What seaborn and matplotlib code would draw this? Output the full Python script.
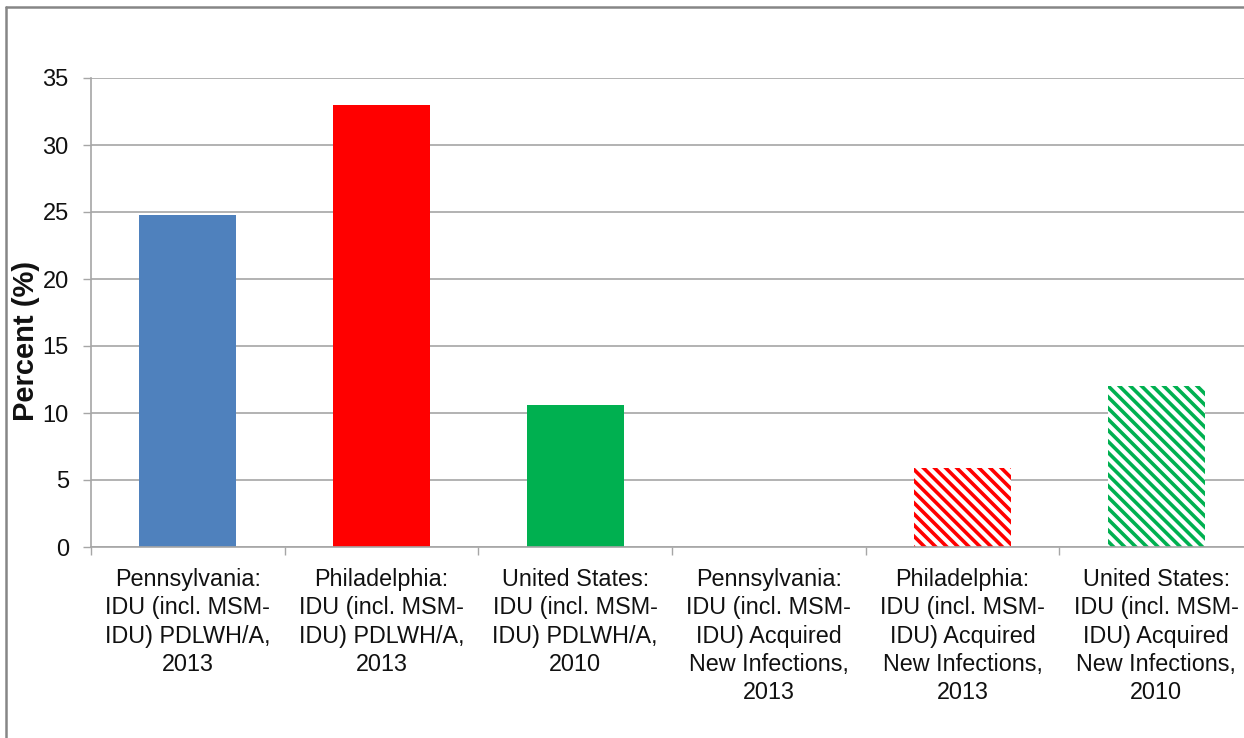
import numpy as np
import pandas as pd
import matplotlib
matplotlib.use("Agg")
import matplotlib.pyplot as plt
from matplotlib.lines import Line2D
import seaborn as sns

# Share of HIV cases attributed to injection drug use
categories = [
    "Pennsylvania:\nIDU (incl. MSM-\nIDU) PDLWH/A,\n2013",
    "Philadelphia:\nIDU (incl. MSM-\nIDU) PDLWH/A,\n2013",
    "United States:\nIDU (incl. MSM-\nIDU) PDLWH/A,\n2010",
    "Pennsylvania:\nIDU (incl. MSM-\nIDU) Acquired\nNew Infections,\n2013",
    "Philadelphia:\nIDU (incl. MSM-\nIDU) Acquired\nNew Infections,\n2013",
    "United States:\nIDU (incl. MSM-\nIDU) Acquired\nNew Infections,\n2010",
]
percent = [24.8, 33.0, 10.6, 0.0, 5.9, 12.0]
bar_colors = ["#4F81BD", "#FF0000", "#00B050", "#4F81BD", "#FF0000", "#00B050"]
hatched = [False, False, False, True, True, True]
y_ticks = [0, 5, 10, 15, 20, 25, 30, 35]

df = pd.DataFrame({"category": categories, "percent": percent})

sns.set_theme(style="white")
plt.rcParams["font.family"] = ["Liberation Sans", "DejaVu Sans"]
plt.rcParams["hatch.linewidth"] = 2.6

fig = plt.figure(figsize=(12.44, 7.38), dpi=100)
ax = fig.add_axes([91 / 1244, 191 / 738, (1253 - 91) / 1244, (660 - 191) / 738])

sns.barplot(data=df, x="category", y="percent", hue="category",
            palette=bar_colors, legend=False, width=0.5, ax=ax,
            saturation=1, linewidth=0)

for patch, col, h in zip(ax.patches, bar_colors, hatched):
    if h:
        patch.set_facecolor("white")
        patch.set_edgecolor(col)
        patch.set_hatch("\\\\\\")
        patch.set_linewidth(0)

grid_col = "#A6A6A6"
text_col = "#111111"
ax.set_ylim(0, 35)
ax.set_yticks(y_ticks)
ax.set_yticklabels([str(t) for t in y_ticks], fontsize=17, color=text_col)
ax.yaxis.grid(True, color=grid_col, linewidth=1.2)
ax.set_axisbelow(True)

n = len(categories)
ax.set_xlim(-0.5, n - 0.5)
ax.set_xticks(np.arange(n + 1) - 0.5)
ax.set_xticklabels([])
ax.set_xticks(np.arange(n), minor=True)
ax.set_xticklabels(categories, minor=True, fontsize=16.8, color=text_col,
                   linespacing=1.3, ha="center", va="top")
ax.tick_params(axis="x", which="major", length=6, width=1, color=grid_col,
               direction="out", bottom=True)
ax.tick_params(axis="x", which="minor", length=0, pad=15)
ax.tick_params(axis="y", length=6, width=1, color=grid_col, direction="out",
               left=True, pad=10)

for side in ["top", "right"]:
    ax.spines[side].set_visible(False)
for side in ["left", "bottom"]:
    ax.spines[side].set_color(grid_col)
    ax.spines[side].set_linewidth(1.2)

ax.set_xlabel("")
ax.set_ylabel("Percent (%)", fontsize=21, fontweight="bold", color=text_col)
ax.yaxis.set_label_coords(-0.044, 0.44)

# outer chart frame along the top and left edges
frame_col = "#868686"
fig.add_artist(Line2D([6 / 1244, 6 / 1244], [0, 1 - 7 / 738],
                      transform=fig.transFigure, color=frame_col, linewidth=1.8))
fig.add_artist(Line2D([6 / 1244, 1], [1 - 7 / 738, 1 - 7 / 738],
                      transform=fig.transFigure, color=frame_col, linewidth=1.8))

fig.savefig("out.png", dpi=100, facecolor="white")
